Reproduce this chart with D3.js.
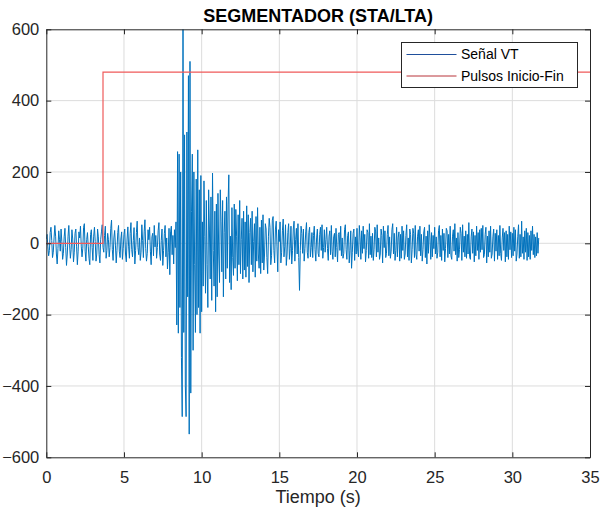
<!DOCTYPE html>
<html>
<head>
<meta charset="utf-8">
<script src="https://cdn.jsdelivr.net/npm/d3@7"></script>
<style>
    body { margin: 0; background: #fff; }
    svg text { font-family: "Liberation Sans", Arial, sans-serif; }
</style>
</head>
<body>
<div id="chart"></div>
<script>
// datos
const titulo = 'SEGMENTADOR (STA/LTA)';
const etiquetaX = 'Tiempo (s)';
const leyenda = ['Señal VT', 'Pulsos Inicio-Fin'];
const xTicks = [0, 5, 10, 15, 20, 25, 30, 35];
const yTicks = [-600, -400, -200, 0, 200, 400, 600];
const xDominio = [0, 35];
const yDominio = [-600, 600];

// paso de muestreo de la senal (s)
const dt = 0.05;
const senal = [
    12, 25, -10, -35, -20, 30, 45, 8, -40, -25, 15, 50, 20, -30, -58, -15, 35, 10, -22, 40,
    5, -45, -28, 18, 42, -12, -62, -30, 20, 50, -5, -42, -18, 38, 12, -52, -25, 28, 40, -10,
    -60, -22, 32, 15, 48, -8, -38, -14, 45, 55, -22, -50, 10, 30, -8, -42, -60, 25, 38, -12,
    -48, 20, 45, 5, -50, -30, 40, 18, -32, -55, 10, 32, 52, -12, -25, 22, 48, -42, -20, 28,
    10, -38, -12, 42, 65, -18, -48, 15, 36, -5, -55, -20, 30, 50, -22, -40, 12, 32, -45, -15,
    25, 40, -30, -52, 12, 46, -10, -42, 28, 58, -18, -38, 8, 44, -58, -20, 30, 62, -12, -32,
    15, -48, -25, 52, 8, -40, 32, 66, -15, -50, -28, 38, 10, 45, -22, -60, 18, 28, -35, 50,
    -10, 22, -42, -12, 35, 58, -30, -48, 8, 40, -62, -20, 28, 50, -38, 15, -72, -25, 42, -88,
    32, 48, -32, 22, -58, 38, -12, 60, -229, 257, -252, 250, -180, 200, -320, -486, 600, -250, 304, -400,
    -486, 312, -150, 470, -535, 510, -420, 90, 250, -300, 200, -60, -250, 180, -200, 262, -180, 150, -252, 190,
    -192, 60, -120, 175, 20, -140, 120, -60, -180, 150, 40, -100, 130, -160, 197, -20, -120, 90, -192, 110,
    -150, 140, -30, -110, 150, 60, -80, 120, -150, 30, 90, -100, 130, -70, 110, 192, -110, 20, -130, 100,
    -40, -90, 110, -70, 95, 20, -105, 80, -60, 120, -85, 10, 70, -100, 90, -75, 60, -95, 105, -65,
    80, -110, 30, 70, -60, 90, -80, 5, 55, -95, 75, -50, 100, -30, -70, 45, -85, 65, -55, 80,
    -75, -30, 55, 40, -40, -85, 20, 70, 45, -60, -35, 65, 75, -20, -55, 40, 62, -10, -80, 38,
    5, 60, -55, -25, 35, 68, -38, -10, 52, -62, -30, 30, 55, -45, -15, 48, -58, -20, 40, 62,
    -50, 10, 42, -30, 55, -40, -132, -20, 48, 28, -28, 40, -50, -15, 32, 58, -25, -42, 30, 45,
    -38, -12, 30, -40, 22, 48, -18, -50, 15, 40, -28, -38, 25, 45, -20, 52, -42, -12, 38, -25,
    10, 45, -15, -48, 20, 35, -32, 50, -22, -45, 18, 28, -38, 42, -12, -52, 25, 30, -20, 48,
    -35, 15, -42, -28, 38, 52, -18, -45, 22, 32, -55, -20, 35, -70, -25, 28, 40, -48, 18, -30,
    42, -22, -38, 50, 15, -45, 35, -28, 48, -15, 25, -52, -20, 38, 30, -42, 55, -32, 20, -40,
    28, -48, -18, 45, 32, -38, 52, -25, 15, -45, -30, 40, 22, -55, 48, -12, 35, -40, -28, 25,
    50, -35, 18, -42, -22, 38, 55, -30, 28, -48, -20, 45, -38, 15, 32, -50, 25, -42, 48, -20,
    35, -45, -30, 22, 52, -38, 15, -48, 40, 25, -55, -18, 42, 28, -40, 50, -32, -45, 20, 38,
    -22, 48, -35, 25, -50, -18, 32, 45, -40, 20, -58, 35, -28, 52, 15, -45, 30, -38, 22, -15,
    45, -30, 18, -42, -25, 35, 50, -38, 22, -48, 40, -20, 28, -52, -15, 42, 35, -40, 25, -30,
    48, -35, -45, 20, 38, -22, 55, -32, 15, -50, 30, -40, -18, 45, 28, -48, 52, -25, 20, -38,
    35, -42, 25, -30, 58, -38, -45, 18, 40, -28, 32, -52, 22, -35, 48, -20, 30, -45, 38, -25,
    42, -18, 50, -40, -32, 25, 45, -55, 20, -38, 35, -25, 48, -42, -30, 18, 40, -50, 28, -22,
    38, -45, 22, -35, 50, -28, -48, 15, 42, -20, 30, -52, 35, -38, 25, -45, 48, -18, 32, -40,
    28, -35, 45, -22, 38, -50, -30, 20, 52, -42, 25, -38, 62, -28, 18, -45, 35, -25, 42, -48,
    30, -38, 22, -45, 35, -20, 48, -32, 25, -40, 18, -35, 30, -28, 15
];

// pulso de inicio-fin (escalon)
const pulsosT = [0, 3.65, 3.65, 36];
const pulsosV = [0, 0, 480, 480];

const width = 600, height = 511;
const margin = { top: 29.3, right: 10, bottom: 53.7, left: 46.3 };

const colorSenal = '#0072BD';
const colorPulso = '#ef5a5a';
const colorEje = '#262626';

const svg = d3.select('#chart').append('svg')
    .attr('width', width)
    .attr('height', height);

const x = d3.scaleLinear()
    .domain(xDominio)
    .range([margin.left, width - margin.right]);
const y = d3.scaleLinear()
    .domain(yDominio)
    .range([height - margin.bottom, margin.top]);

// clip para que el pulso no salga del area
svg.append('clipPath').attr('id', 'area')
    .append('rect')
    .attr('x', x(0)).attr('y', y(600))
    .attr('width', x(35) - x(0)).attr('height', y(-600) - y(600));

// rejilla
const grid = svg.append('g').attr('stroke', '#dcdcdc').attr('stroke-width', 1);
grid.selectAll('line.gx')
    .data(xTicks.slice(1, -1))
    .join('line')
    .attr('x1', d => x(d)).attr('x2', d => x(d))
    .attr('y1', y(600)).attr('y2', y(-600));
grid.selectAll('line.gy')
    .data(yTicks.slice(1, -1))
    .join('line')
    .attr('class', 'gy')
    .attr('x1', x(0)).attr('x2', x(35))
    .attr('y1', d => y(d)).attr('y2', d => y(d));

const plot = svg.append('g').attr('clip-path', 'url(#area)');

const lineaSenal = d3.line()
    .x((d, i) => x(i * dt))
    .y(d => y(d));
plot.append('path')
    .datum(senal)
    .attr('fill', 'none')
    .attr('stroke', colorSenal)
    .attr('stroke-width', 1)
    .attr('stroke-linejoin', 'round')
    .attr('d', lineaSenal);

const lineaPulso = d3.line()
    .x(d => x(d[0]))
    .y(d => y(d[1]));
plot.append('path')
    .datum(pulsosT.map((t, i) => [t, pulsosV[i]]))
    .attr('fill', 'none')
    .attr('stroke', colorPulso)
    .attr('stroke-width', 1.2)
    .attr('d', lineaPulso);

// ejes con ticks hacia dentro, en los cuatro lados
const fmt = d3.format('d');
const ejeX = svg.append('g')
    .attr('transform', `translate(0,${y(-600)})`)
    .call(d3.axisBottom(x).tickValues(xTicks).tickFormat(fmt).tickSizeInner(-5).tickSizeOuter(0).tickPadding(14));
const ejeY = svg.append('g')
    .attr('transform', `translate(${x(0)},0)`)
    .call(d3.axisLeft(y).tickValues(yTicks).tickFormat(fmt).tickSizeInner(-5).tickSizeOuter(0).tickPadding(7));
const ejeTop = svg.append('g')
    .attr('transform', `translate(0,${y(600)})`)
    .call(d3.axisTop(x).tickValues(xTicks).tickFormat('').tickSizeInner(-5).tickSizeOuter(0));
const ejeRight = svg.append('g')
    .attr('transform', `translate(${x(35)},0)`)
    .call(d3.axisRight(y).tickValues(yTicks).tickFormat('').tickSizeInner(-5).tickSizeOuter(0));

[ejeX, ejeY, ejeTop, ejeRight].forEach(g => {
    g.selectAll('path.domain').attr('stroke', colorEje);
    g.selectAll('line').attr('stroke', colorEje);
    g.selectAll('text')
        .attr('fill', colorEje)
        .style('font-size', '16.5px');
});
ejeX.selectAll('text').attr('dy', '0.7em');

// titulo y etiqueta
svg.append('text')
    .attr('x', (x(0) + x(35)) / 2)
    .attr('y', 22)
    .attr('text-anchor', 'middle')
    .style('font-size', '18px')
    .style('font-weight', 'bold')
    .attr('fill', '#000')
    .text(titulo);

svg.append('text')
    .attr('x', (x(0) + x(35)) / 2)
    .attr('y', 503)
    .attr('text-anchor', 'middle')
    .style('font-size', '18px')
    .attr('fill', colorEje)
    .text(etiquetaX);

// leyenda
const leg = svg.append('g');
leg.append('rect')
    .attr('x', 401.5).attr('y', 42.5)
    .attr('width', 176).attr('height', 45)
    .attr('fill', '#fff')
    .attr('stroke', colorEje)
    .attr('stroke-width', 1);
const coloresLeyenda = ['#1f4f9c', '#b8343a'];
leyenda.forEach((txt, i) => {
    const yy = 54.5 + i * 21.5;
    leg.append('line')
        .attr('x1', 406.5).attr('x2', 456.5)
        .attr('y1', yy).attr('y2', yy)
        .attr('stroke', coloresLeyenda[i])
        .attr('stroke-width', 1);
    leg.append('text')
        .attr('x', 461)
        .attr('y', yy)
        .attr('dy', '0.35em')
        .style('font-size', '14px')
        .attr('fill', '#000')
        .text(txt);
});
</script>
</body>
</html>
